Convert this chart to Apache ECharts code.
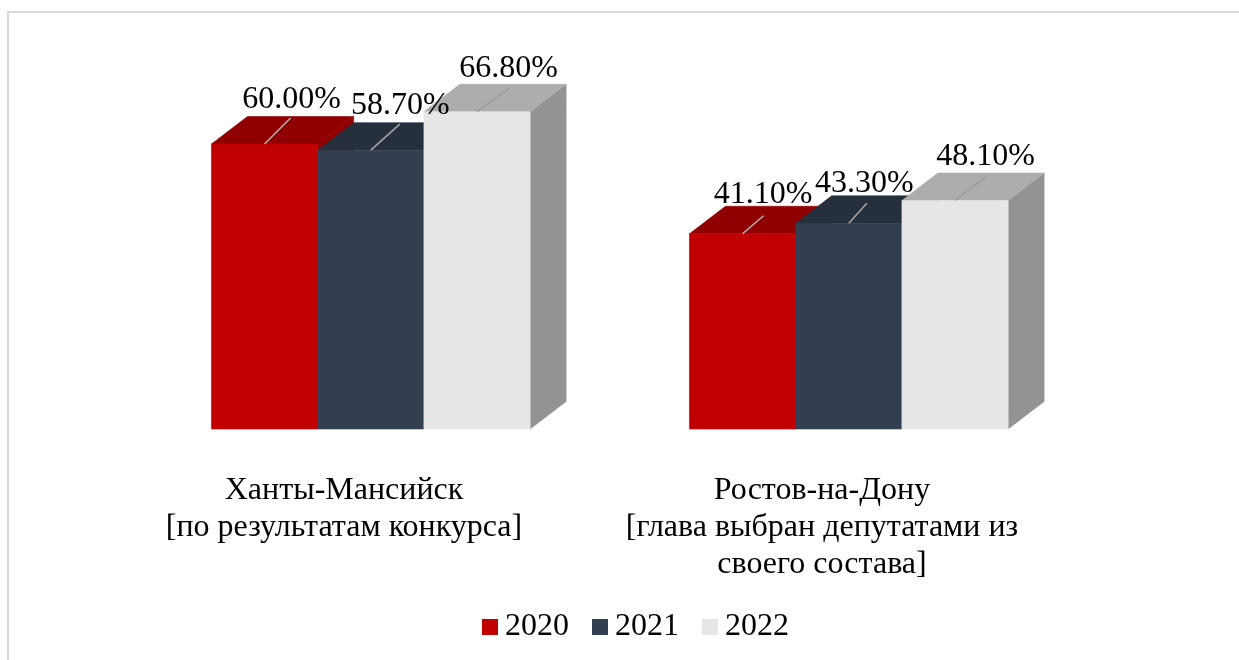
<!DOCTYPE html>
<html><head><meta charset="utf-8">
<style>html,body{margin:0;padding:0;background:#fff}#c{width:1239px;height:660px}</style>
<script src="https://cdn.jsdelivr.net/npm/echarts@6/dist/echarts.min.js"></script>
</head><body><div id="c"></div>
<script>
const categories = ['Ханты-Мансийск\n[по результатам конкурса]', 'Ростов-на-Дону\n[глава выбран депутатами из\nсвоего состава]'];
const years = ['2020', '2021', '2022'];
const values2020 = [60.0, 41.1];
const values2021 = [58.7, 43.3];
const values2022 = [66.8, 48.1];
const seriesValues = [values2020, values2021, values2022];

const FRONT = ['#c00000', '#333f50', '#e6e6e6'];
const TOP = ['#900000', '#262f3c', '#adadad'];
const SIDE = ['#900000', '#262f3c', '#939393'];
const LEADER = ['#b4b4b4', '#a6a6a6', '#9c9c9c'];
const DX = 36, DY = 27.5, SHIFT = 26.8;
const FONT = '"Liberation Serif","Times New Roman",serif';
// hand-placed label offsets from the leader start, [series][category]
const LABEL_NUDGE = [[[27, -44], [20.5, -39]], [[29.5, -45], [15.5, -40]], [[31.5, -43], [30.5, -44]]];
const LEADER_END = [[[26, -26], [21, -18]], [[29, -26], [18, -20]], [[32, -23], [31, -24]]];

function renderer(si) {
  return function (params, api) {
    const ci = api.value(0);
    const base = api.coord([ci, 0]);
    const top = api.coord([ci, api.value(1)]);
    const band = api.size([1, 0])[0];
    const w = band / 4.5;
    const cx = base[0] + SHIFT + (si - 1) * w;
    const x0 = cx - w / 2, x1 = cx + w / 2, y0 = base[1], y1 = top[1];
    const poly = (pts, fill, stroke) => ({ type: 'polygon', shape: { points: pts }, style: { fill, stroke: stroke || fill, lineWidth: 0.6 } });
    const n = LABEL_NUDGE[si][ci], le = LEADER_END[si][ci];
    return {
      type: 'group',
      children: [
        poly([[x1, y0], [x1 + DX, y0 - DY], [x1 + DX, y1 - DY], [x1, y1]], SIDE[si]),
        poly([[x0, y1], [x0 + DX, y1 - DY], [x1 + DX, y1 - DY], [x1, y1]], TOP[si]),
        poly([[x0, y0], [x1, y0], [x1, y1], [x0, y1]], FRONT[si]),
        { type: 'line', shape: { x1: cx, y1: y1, x2: cx + le[0], y2: y1 + le[1] }, style: { stroke: LEADER[si], lineWidth: 1.5 } },
        { type: 'text', z2: 100, style: { x: cx + n[0], y: y1 + n[1], text: api.value(1).toFixed(2) + '%', fill: '#000', font: '32px ' + FONT, align: 'center', verticalAlign: 'middle' } }
      ]
    };
  };
}

const chart = echarts.init(document.getElementById('c'), null, { renderer: 'canvas' });
chart.setOption({
  animation: false,
  backgroundColor: '#fff',
  graphic: [
    { type: 'line', silent: true, z: -1, shape: { x1: 8, y1: 12, x2: 1239, y2: 12 }, style: { stroke: '#d9d9d9', lineWidth: 2 } },
    { type: 'line', silent: true, z: -1, shape: { x1: 8, y1: 11, x2: 8, y2: 660 }, style: { stroke: '#d9d9d9', lineWidth: 2 } }
  ],
  legend: {
    data: years, bottom: 12, left: 477, icon: 'rect', itemWidth: 16, itemHeight: 16, itemGap: 23,
    textStyle: { fontFamily: FONT, fontSize: 32, color: '#000', padding: [6, 0, 0, 2] }
  },
  grid: { left: 105, top: 49, width: 956, height: 380 },
  xAxis: {
    type: 'category', data: categories,
    axisLine: { show: false }, axisTick: { show: false },
    axisLabel: { color: '#000', fontFamily: FONT, fontSize: 32, lineHeight: 37, margin: 43, interval: 0 }
  },
  yAxis: { type: 'value', min: 0, max: 80, interval: 20, show: false, splitLine: { show: false } },
  series: years.map((y, si) => ({
    name: y, type: 'custom', coordinateSystem: 'cartesian2d',
    itemStyle: { color: FRONT[si] },
    encode: { x: 0, y: 1 },
    data: seriesValues[si].map((v, ci) => [ci, v]),
    renderItem: renderer(si)
  }))
});
</script></body></html>
